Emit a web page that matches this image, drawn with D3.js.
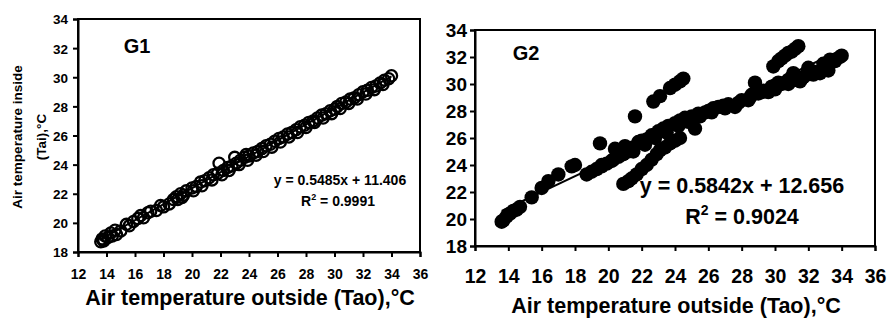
<!DOCTYPE html>
<html><head><meta charset="utf-8">
<script src="https://cdn.jsdelivr.net/npm/d3@7"></script>
<style>body{margin:0;background:#fff}svg{display:block}text{font-family:"Liberation Sans",Arial,sans-serif;font-weight:bold;fill:#000}</style>
</head><body>
<svg id="c" width="888" height="318"></svg>
<script>
const xTicks=[12,14,16,18,20,22,24,26,28,30,32,34,36];
const yTicks=[18,20,22,24,26,28,30,32,34];
// G1 data (outside temp, inside temp)
const g1X=[13.6,13.7,13.8,13.9,14.1,14.3,14.6,14.7,15.4,15.9,16.2,16.4,16.9,17.1,17.8,18.0,18.7,18.9,19.0,19.2,19.4,19.6,20.0,20.3,20.6,20.9,21.2,21.5,21.8,21.9,22.2,22.5,22.8,23.0,23.1,23.4,23.7,23.8,24.0,24.3,24.6,24.9,25.2,25.5,25.8,26.1,26.4,26.7,27.0,27.3,27.6,27.9,28.2,28.5,28.8,29.1,29.4,29.7,30.0,30.2,30.5,30.8,31.1,31.4,31.7,32.0,32.3,32.6,32.9,33.2,33.5,33.8,34.0,
  13.8,14.4,15.0,15.6,16.6,17.5,18.4,19.3,20.1,20.7,21.4,22.1,22.6,23.3,23.9,24.5,25.0,25.6,26.2,26.8,27.4,28.0,28.6,29.2,29.8,30.4,31.0,31.6,32.2,32.8,33.4];
const g1Y=[18.7,18.9,18.8,19.1,19.0,19.3,19.5,19.2,19.9,20.1,20.3,20.5,20.7,20.8,21.2,21.1,21.6,21.8,21.6,22.0,21.9,22.2,22.4,22.5,22.8,22.9,23.1,23.3,23.4,24.1,23.6,23.8,23.9,24.5,24.1,24.3,24.5,24.7,24.6,24.8,24.9,25.1,25.3,25.4,25.6,25.8,25.9,26.1,26.2,26.4,26.6,26.7,26.9,27.0,27.2,27.4,27.5,27.7,27.8,28.0,28.2,28.3,28.5,28.6,28.8,29.0,29.1,29.3,29.4,29.6,29.8,29.9,30.1,
  18.75,19.1,19.45,19.8,20.35,20.85,21.3,21.75,22.2,22.55,22.95,23.3,23.6,24.0,24.3,24.65,24.9,25.2,25.55,25.9,26.2,26.55,26.9,27.2,27.5,27.85,28.2,28.5,28.85,29.15,29.5];
const g1Slope=0.5485, g1Int=11.406;
// G2 data
const g2X=[13.6,13.7,13.9,14.1,14.3,14.5,14.7,15.4,16.0,16.4,17.0,17.8,18.0,18.7,19.0,19.3,19.5,19.6,19.9,20.2,20.4,20.6,20.9,21.0,21.2,21.5,21.6,21.8,22.0,22.3,22.6,23.0,23.3,23.6,24.0,24.3,24.6,25.0,25.2,25.4,25.8,26.0,26.3,26.6,26.9,27.2,27.6,28.0,28.4,28.6,28.8,29.0,29.3,29.6,29.8,30.0,30.2,30.4,30.6,30.8,31.0,31.1,31.3,31.5,31.7,31.9,32.0,32.3,32.7,32.9,33.1,33.2,33.3,33.6,33.9,34.0,
  19.6,20.3,20.8,21.5,22.2,22.8,23.5,24.2,24.8,25.5,26.2,27.0,27.8,28.5,29.2,30.0,30.8,31.6,32.4,33.0,
  22.7,23.1,23.7,24.0,24.3,24.5,
  20.9,21.2,21.4,21.7,22.0,22.3,22.6,22.9,23.1,23.4,23.7,24.0,24.3,
  29.9,30.2,30.4,30.6,30.8,31.0,31.2,31.4];
const g2Y=[19.8,19.9,20.2,20.4,20.6,20.7,20.9,21.6,22.3,22.8,23.3,23.9,24.0,23.3,23.5,23.7,25.6,23.9,24.1,24.3,25.2,24.6,24.8,25.4,25.0,25.3,27.6,25.7,25.8,25.9,26.2,26.5,26.7,26.9,27.1,27.3,27.5,27.6,26.7,27.8,27.9,28.0,28.2,28.3,28.4,28.5,28.3,28.8,28.8,29.2,30.1,29.3,29.5,29.4,29.8,29.9,30.1,30.0,30.1,30.3,30.5,30.8,30.3,30.2,30.5,30.7,31.2,30.7,30.8,31.5,31.1,31.0,31.8,31.7,32.0,32.1,
  24.0,24.4,24.9,25.0,25.5,26.0,26.4,26.9,27.2,27.6,27.9,28.2,28.6,29.0,29.4,29.6,30.0,30.4,30.9,31.3,
  28.7,29.1,29.7,29.95,30.2,30.4,
  22.6,22.8,23.0,23.3,23.7,24.0,24.4,24.8,25.1,25.3,25.6,25.8,26.0,
  31.3,31.7,31.9,32.1,32.3,32.4,32.6,32.8];
const g2Slope=0.5842, g2Int=12.656;

const svg=d3.select("#c");

function panel(o){
  const x=d3.scaleLinear().domain([12,36]).range([o.l,o.r]);
  const y=d3.scaleLinear().domain([18,34]).range([o.b,o.t]);
  const g=svg.append("g");
  g.append("rect").attr("x",o.l).attr("y",o.t).attr("width",o.r-o.l).attr("height",o.b-o.t)
    .attr("fill","none").attr("stroke","#000").attr("stroke-width",2);
  const xa=g.append("g").attr("transform",`translate(0,${o.b})`)
    .call(d3.axisBottom(x).tickValues(xTicks).tickSize(5).tickPadding(o.xpad).tickFormat(d3.format("d")));
  const ya=g.append("g").attr("transform",`translate(${o.l},0)`)
    .call(d3.axisLeft(y).tickValues(yTicks).tickSize(5).tickPadding(o.ypad).tickFormat(d3.format("d")));
  [xa,ya].forEach(a=>{a.select(".domain").attr("stroke-width",2);a.selectAll("line").attr("stroke-width",2);a.selectAll("text").attr("font-family","Liberation Sans, Arial, sans-serif").attr("font-weight","bold").attr("fill","#000");});
  xa.selectAll("text").attr("font-size",o.xfs);
  ya.selectAll("text").attr("font-size",o.yfs).attr("dy","0.36em");
  const x0=d3.min(o.xs), x1=d3.max(o.xs);
  g.append("line").attr("x1",x(x0)).attr("y1",y(o.m*x0+o.c)).attr("x2",x(x1)).attr("y2",y(o.m*x1+o.c))
    .attr("stroke","#000").attr("stroke-width",2);
  g.append("g").selectAll("circle").data(o.xs.map((v,i)=>[v,o.ys[i]])).join("circle")
    .attr("cx",d=>x(d[0])).attr("cy",d=>y(d[1])).attr("r",o.rad)
    .attr("fill",o.fill).attr("stroke","#000").attr("stroke-width",o.sw);
  return {x,y,g};
}

panel({l:78,r:420,t:19,b:252,xs:g1X,ys:g1Y,m:g1Slope,c:g1Int,rad:5.6,fill:"none",sw:2.3,xfs:"14px",yfs:"13.5px",xpad:12,ypad:5});
panel({l:475,r:875,t:30,b:246,xs:g2X,ys:g2Y,m:g2Slope,c:g2Int,rad:7.2,fill:"#000",sw:0,xfs:"19.5px",yfs:"19px",xpad:18,ypad:3});

svg.append("text").attr("x",137).attr("y",53).attr("text-anchor","middle").attr("font-size","20px").text("G1");
svg.append("text").attr("x",526).attr("y",60).attr("text-anchor","middle").attr("font-size","20px").text("G2");
svg.append("text").attr("x",340).attr("y",185).attr("text-anchor","middle").attr("font-size","14px").text("y = 0.5485x + 11.406");
const r1=svg.append("text").attr("x",338).attr("y",206).attr("text-anchor","middle").attr("font-size","14px");
r1.append("tspan").text("R");r1.append("tspan").attr("dy","-6").attr("font-size","9px").text("2");r1.append("tspan").attr("dy","6").text(" = 0.9991");
svg.append("text").attr("x",742).attr("y",193).attr("text-anchor","middle").attr("font-size","21.5px").text("y = 0.5842x + 12.656");
const r2=svg.append("text").attr("x",742).attr("y",224).attr("text-anchor","middle").attr("font-size","21.5px");
r2.append("tspan").text("R");r2.append("tspan").attr("dy","-9").attr("font-size","14px").text("2");r2.append("tspan").attr("dy","9").text(" = 0.9024");
svg.append("text").attr("x",250).attr("y",305).attr("text-anchor","middle").attr("font-size","21.5px").text("Air temperature outside (Tao),°C");
svg.append("text").attr("x",676).attr("y",313).attr("text-anchor","middle").attr("font-size","21.5px").text("Air temperature outside (Tao),°C");
const yt=svg.append("text").attr("transform","translate(0,137) rotate(-90)").attr("text-anchor","middle").attr("font-size","13.5px");
yt.append("tspan").attr("x",0).attr("y",22).text("Air temperature inside");
yt.append("tspan").attr("x",0).attr("y",46).text("(Tai),°C");
</script>
</body></html>
